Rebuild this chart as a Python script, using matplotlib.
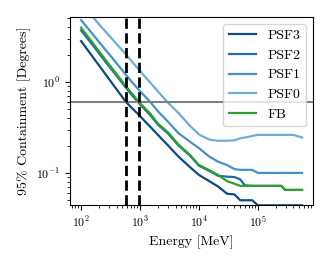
import matplotlib
matplotlib.use("Agg")
import matplotlib.pyplot as plt

plt.rcParams['font.family'] = 'serif'
plt.rcParams['font.serif'] = ['cmr10']
plt.rcParams['mathtext.fontset'] = 'cm'
plt.rcParams['axes.formatter.use_mathtext'] = True

# energies in MeV
energy = [100, 150, 200, 300, 400, 580, 700, 970, 1500, 2000, 3000, 4500, 7000,
          10000, 15000, 21000, 30000, 40000, 50000, 60000, 80000, 100000,
          250000, 290000, 400000, 560000]

psf3 = [2.82, 1.97, 1.53, 1.07, 0.83, 0.60, 0.53, 0.43, 0.32, 0.263, 0.20, 0.151, 0.116,
        0.095, 0.081, 0.071, 0.059, 0.058, 0.050, 0.050, 0.050, 0.044,
        0.044, 0.044, 0.044, 0.044]
psf2 = [3.7, 2.65, 2.08, 1.48, 1.17, 0.86, 0.74, 0.58, 0.43, 0.34, 0.27, 0.20, 0.155,
        0.12, 0.105, 0.093, 0.091, 0.090, 0.085, 0.073, 0.072, 0.072,
        0.072, 0.065, 0.065, 0.065]
psf1 = [4.8, 3.49, 2.77, 2.02, 1.61, 1.19, 1.03, 0.81, 0.60, 0.478, 0.364, 0.273, 0.221,
        0.187, 0.151, 0.133, 0.122, 0.110, 0.108, 0.108, 0.108, 0.100,
        0.100, 0.100, 0.100, 0.100]
psf0 = [7.2, 5.4, 4.34, 3.23, 2.62, 2.0, 1.73, 1.35, 0.98, 0.79, 0.59, 0.455, 0.33,
        0.265, 0.232, 0.226, 0.226, 0.228, 0.24, 0.245, 0.255, 0.262,
        0.262, 0.262, 0.262, 0.245]
fb = [3.95, 2.8, 2.19, 1.55, 1.22, 0.89, 0.77, 0.60, 0.446, 0.35, 0.278, 0.205, 0.158,
      0.122, 0.107, 0.095, 0.081, 0.076, 0.072, 0.072, 0.072, 0.072,
      0.072, 0.065, 0.065, 0.065]

level = 0.6
e_cross = [580, 960]

fig = plt.figure(figsize=(3.32, 2.6), dpi=100)
ax = fig.add_axes([0.211, 0.212, 0.732, 0.723])

ax.plot(energy, psf3, color='#0b4a84', lw=1.6, label='PSF3')
ax.plot(energy, psf2, color='#1c6aae', lw=1.6, label='PSF2')
ax.plot(energy, psf1, color='#4690c8', lw=1.6, label='PSF1')
ax.plot(energy, psf0, color='#6aaed6', lw=1.6, label='PSF0')
ax.plot(energy, fb, color='#2ca02c', lw=1.6, label='FB')

ax.axhline(level, color='gray', lw=1.5)
for e in e_cross:
    ax.axvline(e, color='k', ls='--', lw=2)

ax.set_xscale('log')
ax.set_yscale('log')
ax.set_ylim(0.0445, 5.2)
ax.set_xlabel('Energy [MeV]', fontsize=10)
ax.set_ylabel('95% Containment [Degrees]', fontsize=10)
ax.tick_params(labelsize=8.5)
ax.legend(loc='upper right', fontsize=10)

fig.savefig('out.png', dpi=100)
